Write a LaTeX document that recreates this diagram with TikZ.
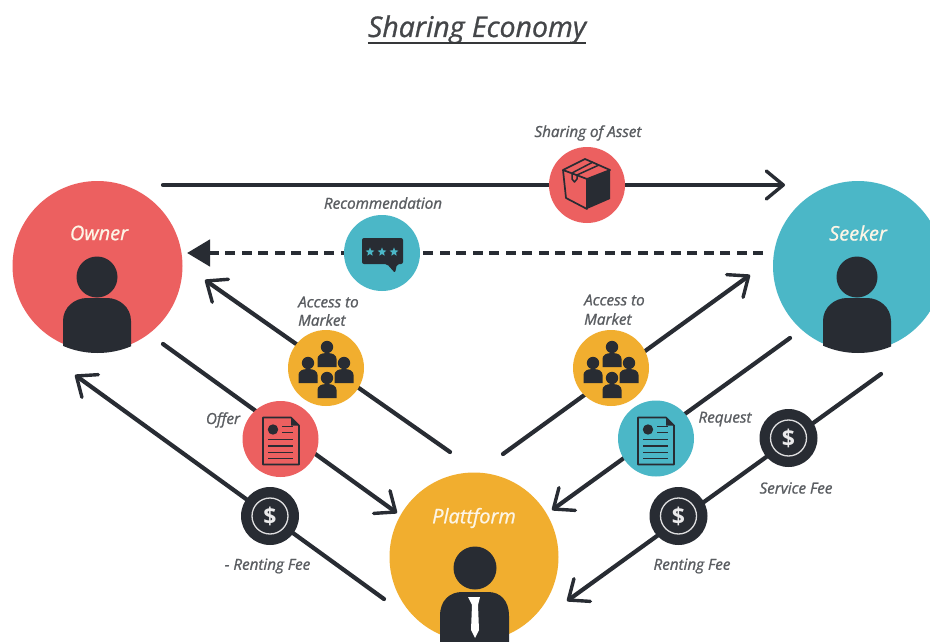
\documentclass[tikz,border=0pt]{standalone}
\usepackage{fontspec}
\setmainfont{Open Sans}
\newfontfamily\semif[ItalicFeatures={FakeBold=1.2}]{Open Sans}
\newfontfamily\titlef[ItalicFeatures={FakeBold=0.9}]{Open Sans}
\usetikzlibrary{arrows.meta}
\definecolor{cred}{HTML}{EC6060}
\definecolor{cteal}{HTML}{4BB7C7}
\definecolor{cyel}{HTML}{F1AE2F}
\definecolor{cdark}{HTML}{282C33}
\definecolor{ctext}{HTML}{5A5D61}
\tikzset{
  x=1pt,y=-1pt,
  disc/.style={circle,inner sep=0pt,minimum size=#1},
  conn/.style={draw=cdark,line width=4.2pt,line cap=round,-{Straight Barb[length=17pt,width=28pt,line width=3.4pt,round]}},
  dots/.style={draw=cdark,line width=4.8pt,dash pattern=on 10pt off 6.5pt,-{Triangle[length=23pt,width=26pt]}},
  lab/.style={text=ctext,font=\semif\itshape\fontsize{15.2}{17}\selectfont,inner sep=0pt},
  lableft/.style={lab,anchor=west},
  wlab/.style={text=white!88!cyel,font=\titlef\itshape\fontsize{20}{22}\selectfont,inner sep=0pt},
  person/.pic={
    \fill[cdark] (0,0) circle (20.5);
    \fill[cdark] (-34,90) -- (-34,44) .. controls (-34,30) and (-22,21) .. (-10,21) -- (10,21) .. controls (22,21) and (34,30) .. (34,44) -- (34,90) -- cycle;
  },
  mini/.pic={
    \fill[cdark] (0,-6) circle (6.2);
    \fill[cdark] (-9.5,14) -- (-9.5,6) .. controls (-9.5,2) and (-6,0) .. (0,0) .. controls (6,0) and (9.5,2) .. (9.5,6) -- (9.5,14) -- cycle;
  },
  crowd/.pic={
    \pic at (1,-15) {mini};
    \pic at (-18,1) {mini};
    \pic at (18,1) {mini};
    \pic at (1,16) {mini};
  },
  docicon/.pic={
    \draw[cdark,line width=1.7pt,line join=round] (-18,-22) -- (10,-22) -- (18,-14) -- (18,25) -- (-18,25) -- cycle;
    \fill[cdark] (10,-22) -- (18,-14) -- (10,-14) -- cycle;
    \fill[cdark] (-8,-10) circle (5.2);
    \draw[cdark,line width=1.8pt] (1,-13) -- (12,-13) (1,-7) -- (12,-7) (-13,0) -- (12,0) (-13,6.5) -- (12,6.5) (-13,13) -- (12,13) (-13,19) -- (12,19);
  },
  dollar/.pic={
    \draw[white!85!cdark,line width=1.3pt] (0,0) circle (18);
    \node[text=white!90!cdark,font=\bfseries\fontsize{23}{24}\selectfont,inner sep=0pt] at (0,0) {\$};
  },
  rstar/.pic={
    \fill[cteal] (-90:4.6) -- (-54:2) -- (-18:4.6) -- (18:2) -- (54:4.6) -- (90:2) -- (126:4.6) -- (162:2) -- (198:4.6) -- (234:2) -- cycle;
  },
}
\begin{document}
\begin{tikzpicture}
\useasboundingbox (0,0) rectangle (930,642);
\clip (0,0) rectangle (930,642);
\fill[white] (0,0) rectangle (930,642);

% free ends of the connectors
\coordinate (a1s) at (163,185); \coordinate (a1e) at (785,185);
\coordinate (a2s) at (763,253); \coordinate (a2e) at (187,253);
\coordinate (a3s) at (450,452); \coordinate (a3e) at (205,280);
\coordinate (a4s) at (163,344); \coordinate (a4e) at (397,513);
\coordinate (a5s) at (384,599); \coordinate (a5e) at (75,375);
\coordinate (a6s) at (503,454); \coordinate (a6e) at (750,275);
\coordinate (a7s) at (790,338); \coordinate (a7e) at (552,510);
\coordinate (a8s) at (881,374); \coordinate (a8e) at (567,601);

\draw[conn] (a1s) -- (a1e);
\draw[dots] (a2s) -- (a2e);
\draw[conn] (a3s) -- (a3e);
\draw[conn] (a4s) -- (a4e);
\draw[conn] (a5s) -- (a5e);
\draw[conn] (a6s) -- (a6e);
\draw[conn] (a7s) -- (a7e);
\draw[conn] (a8s) -- (a8e);

% main actors
\node[disc=170pt,fill=cred] (owner) at (97.5,266) {};
\node[disc=170pt,fill=cteal] (seeker) at (858,266) {};
\node[disc=169pt,fill=cyel] (platform) at (474,557) {};
\begin{scope}
  \clip (97.5,266) circle (87);
  \pic at (97,277) {person};
\end{scope}
\begin{scope}
  \clip (858,266) circle (87);
  \pic at (857,277) {person};
\end{scope}
\fill[cdark] (475,568) circle (21.5);
\fill[cdark] (440,650) -- (440,616) .. controls (440,600) and (450,592) .. (462,592) -- (488,592) .. controls (500,592) and (509,600) .. (509,616) -- (509,650) -- cycle;
\fill[white] (468,597) -- (480,597) -- (478,605) -- (479,630) -- (475,638) -- (471,630) -- (472,605) -- cycle;

% icon discs
\node[disc=76pt,fill=cred] (asset) at (587,185) {};
\node[disc=76pt,fill=cteal] (recom) at (382,253) {};
\node[disc=76pt,fill=cyel] (accl) at (326,368) {};
\node[disc=76pt,fill=cyel] (accr) at (611,368) {};
\node[disc=76pt,fill=cred] (offer) at (280.5,439) {};
\node[disc=76pt,fill=cteal] (request) at (656,438.5) {};
\node[disc=58pt,fill=cdark] (rentl) at (270,516) {};
\node[disc=58pt,fill=cdark] (rentr) at (678.5,516) {};
\node[disc=58pt,fill=cdark] (service) at (788.5,438) {};

% box icon
\fill[cdark] (587,179) -- (610,170) -- (610,199) -- (587,209) -- cycle;
\draw[cdark,line width=1.7pt,line join=round] (563,170) -- (585,159) -- (610,170) -- (587,179) -- cycle (563,170) -- (566,198) -- (587,209) -- (587,179);
\draw[cdark,line width=1.5pt,line join=round] (593,162) -- (572,173) -- (572,179) -- (574.5,182) -- (577,179) -- (577,175) -- (599,165);

% chat icon
\fill[cdark,rounded corners=2pt] (362,238) -- (403,238) -- (403,264) -- (397,264) -- (395,273) -- (387,264) -- (362,264) -- cycle;
\pic at (370,252) {rstar};
\pic at (382,252) {rstar};
\pic at (394,252) {rstar};

\pic at (326,368) {crowd};
\pic at (611,368) {crowd};
\pic at (281,439.5) {docicon};
\pic at (656,439.5) {docicon};
\pic at (270,516) {dollar};
\pic at (678.5,516) {dollar};
\pic at (788.5,438) {dollar};

% texts
\node[text=ctext!75!black,font=\titlef\itshape\fontsize{28.5}{30}\selectfont,inner sep=0pt,anchor=base] (title) at (477,37) {Sharing Economy};
\draw[ctext!60!black,line width=2.2pt] ([yshift=-6pt]title.base west) -- ([yshift=-6pt]title.base east);
\node[wlab] (townr) at (99,233) {Owner};
\node[wlab] (tseek) at (858,233) {Seeker};
\node[wlab] (tplat) at (474,518) {Plattform};
\node[lab] (t1) at (588,133) {Sharing of Asset};
\node[lab] (t2) at (383,203) {Recommendation};
\node[lableft] (t3) at (298,302) {Access to};
\node[lableft] (t3b) at (298,320) {Market};
\node[lableft] (t4) at (584,300) {Access to};
\node[lableft] (t4b) at (584,319) {Market};
\node[lab] (t5) at (223,420) {Offer};
\node[lab] (t6) at (725,419) {Request};
\node[lab] (t7) at (796,488) {Service Fee};
\node[lab] (t8) at (692,566) {Renting Fee};
\node[lab] (t9) at (267.5,566) {- Renting Fee};
\end{tikzpicture}
\end{document}
